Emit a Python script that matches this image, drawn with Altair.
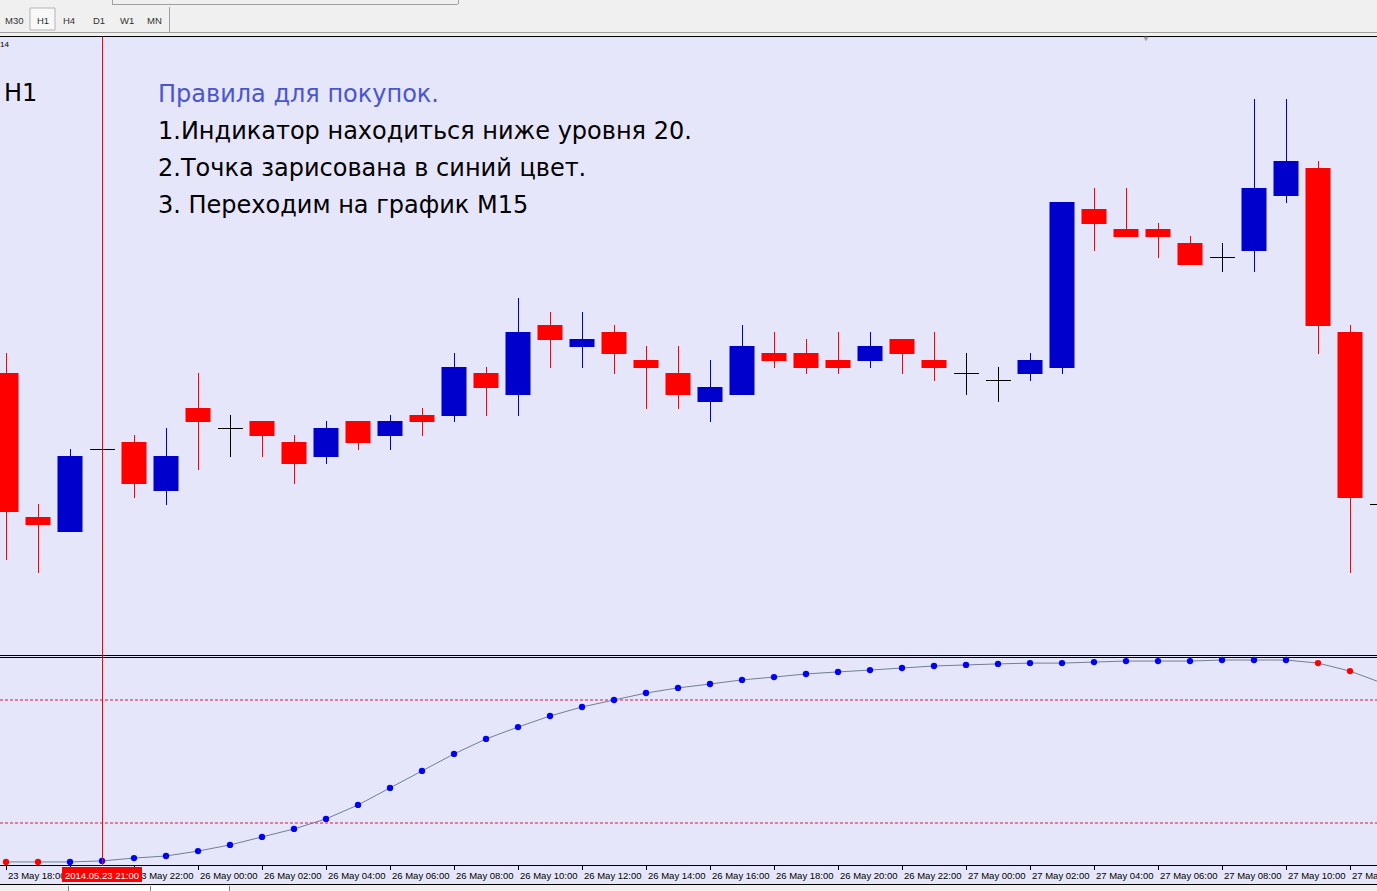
import altair as alt
import pandas as pd

W, H = 1377, 891

# ---------------- data ----------------
hours = [
    "23 May 18:00", "23 May 19:00", "23 May 20:00", "23 May 21:00", "23 May 22:00", "23 May 23:00",
    "26 May 00:00", "26 May 01:00", "26 May 02:00", "26 May 03:00", "26 May 04:00", "26 May 05:00",
    "26 May 06:00", "26 May 07:00", "26 May 08:00", "26 May 09:00", "26 May 10:00", "26 May 11:00",
    "26 May 12:00", "26 May 13:00", "26 May 14:00", "26 May 15:00", "26 May 16:00", "26 May 17:00",
    "26 May 18:00", "26 May 19:00", "26 May 20:00", "26 May 21:00", "26 May 22:00", "26 May 23:00",
    "27 May 00:00", "27 May 01:00", "27 May 02:00", "27 May 03:00", "27 May 04:00", "27 May 05:00",
    "27 May 06:00", "27 May 07:00", "27 May 08:00", "27 May 09:00", "27 May 10:00", "27 May 11:00",
    "27 May 12:00", "27 May 13:00",
]

opens = [1.36427, 1.36283, 1.36268, 1.36351, 1.36358, 1.36309, 1.36392, 1.36372, 1.36379, 1.36358,
         1.36343, 1.36379, 1.36364, 1.36385, 1.36384, 1.36427, 1.36405, 1.36475, 1.36453, 1.36468,
         1.36440, 1.36427, 1.36398, 1.36405, 1.36447, 1.36447, 1.36440, 1.36439, 1.36461, 1.36440,
         1.36427, 1.36420, 1.36426, 1.36432, 1.36591, 1.36571, 1.36571, 1.36557, 1.36543, 1.36549,
         1.36604, 1.36632, 1.36468, 1.36296]
highs = [1.36447, 1.36296, 1.36351, 1.36351, 1.36365, 1.36372, 1.36427, 1.36385, 1.36379, 1.36365,
         1.36379, 1.36379, 1.36385, 1.36392, 1.36447, 1.36433, 1.36502, 1.36488, 1.36488, 1.36475,
         1.36454, 1.36454, 1.36440, 1.36475, 1.36468, 1.36461, 1.36468, 1.36468, 1.36461, 1.36468,
         1.36447, 1.36433, 1.36447, 1.36598, 1.36612, 1.36612, 1.36577, 1.36564, 1.36557, 1.36701,
         1.36701, 1.36639, 1.36475, 1.36305]
lows = [1.36240, 1.36227, 1.36268, 1.36351, 1.36302, 1.36295, 1.36330, 1.36343, 1.36343, 1.36316,
        1.36336, 1.36350, 1.36350, 1.36364, 1.36378, 1.36384, 1.36384, 1.36432, 1.36432, 1.36426,
        1.36391, 1.36391, 1.36378, 1.36405, 1.36432, 1.36426, 1.36426, 1.36432, 1.36426, 1.36419,
        1.36405, 1.36398, 1.36419, 1.36426, 1.36549, 1.36563, 1.36542, 1.36535, 1.36528, 1.36528,
        1.36597, 1.36446, 1.36227, 1.36285]
closes = [1.36288, 1.36275, 1.36344, 1.36351, 1.36316, 1.36344, 1.36378, 1.36372, 1.36364, 1.36336,
          1.36372, 1.36357, 1.36379, 1.36378, 1.36433, 1.36412, 1.36468, 1.36460, 1.36461, 1.36446,
          1.36432, 1.36405, 1.36413, 1.36454, 1.36439, 1.36432, 1.36432, 1.36454, 1.36446, 1.36432,
          1.36427, 1.36420, 1.36440, 1.36598, 1.36576, 1.36563, 1.36563, 1.36535, 1.36543, 1.36612,
          1.36639, 1.36474, 1.36302, 1.36296]

stoch = [1.0, 1.0, 1.0, 1.5, 2.9, 3.9, 6.3, 9.3, 13.2, 17.1, 22.0, 28.8, 37.1, 45.4, 53.7, 61.0,
         66.8, 72.2, 76.6, 80.0, 83.4, 85.9, 87.8, 89.8, 91.2, 92.7, 93.7, 94.6, 95.6, 96.6, 97.1,
         97.6, 98.0, 98.0, 98.5, 99.0, 99.0, 99.0, 99.5, 99.5, 99.5, 98.0, 94.1, 88.3]
stoch_state = ["down", "down"] + ["up"] * 39 + ["down", "down", "down"]

levels = [20, 80]
axis_labels = hours[::2]
marker_time = "2014.05.23 21:00"
marker_index = 3

title_lines = [
    "Правила для покупок.",
    "1.Индикатор находиться ниже уровня 20.",
    "2.Точка зарисована в синий цвет.",
    "3. Переходим на график М15",
]
timeframes = ["M30", "H1", "H4", "D1", "W1", "MN"]

# ---------------- tables ----------------
n = len(hours)
df = pd.DataFrame({
    "idx": list(range(n)), "time": hours, "open": opens, "high": highs,
    "low": lows, "close": closes, "stoch": stoch, "state": stoch_state,
})
df["col"] = ["#0000CD" if c > o else ("#FF0000" if c < o else "#000000")
             for o, c in zip(opens, closes)]
df["dotcol"] = ["#0000FF" if s == "up" else "#FF0000" for s in stoch_state]

ticks = pd.DataFrame({"idx": list(range(0, n, 2)), "label": axis_labels})
# the label under the marker box is hidden by it in the terminal
tick_text = ticks[ticks["idx"] != marker_index - 1]
lv = pd.DataFrame({"lvl": levels})
mk = pd.DataFrame({"idx": [marker_index], "label": [marker_time]})
one = pd.DataFrame({"a": [0]})

# ---------------- scales ----------------
xs = alt.Scale(domain=[-6 / 32, (W - 6) / 32], range=[0, W], nice=False, zero=False, padding=0)
ysm = alt.Scale(domain=[1.36145, 1.36764], range=[655, 36], nice=False, zero=False, padding=0)
ysi = alt.Scale(domain=[0, 100], range=[864, 659], nice=False, zero=False, padding=0)
X = alt.X("idx:Q", scale=xs, axis=None)

FONT_UI = "Liberation Sans"
FONT_TXT = "DejaVu Sans"


def rect(x, x2, y, y2, **kw):
    return alt.Chart(one).mark_rect(**kw).encode(
        x=alt.value(x), x2=alt.value(x2), y=alt.value(y), y2=alt.value(y2))


def hline(y, x=0, x2=W, color="black", **kw):
    return alt.Chart(one).mark_rule(color=color, strokeWidth=1, **kw).encode(
        x=alt.value(x), x2=alt.value(x2), y=alt.value(y + 0.5))


def vline(x, y, y2, color="black", **kw):
    return alt.Chart(one).mark_rule(color=color, strokeWidth=1, **kw).encode(
        x=alt.value(x + 0.5), y=alt.value(y), y2=alt.value(y2))


def label(text, x, y, size, color="black", font=FONT_UI, align="left", **kw):
    return alt.Chart(one).mark_text(
        text=text, align=align, baseline="alphabetic", fontSize=size,
        font=font, color=color, **kw).encode(x=alt.value(x), y=alt.value(y))


layers = []
# plot backgrounds
layers.append(rect(0, W, 37, 885, color="#E6E6FA"))
# toolbar
layers.append(hline(4, 112, 458, color="#A0A0A0"))
layers.append(vline(112, 0, 4, color="#A0A0A0"))
layers.append(vline(458, 0, 4, color="#A0A0A0"))
layers.append(rect(30, 55, 8, 30, color="#F8F8F8", stroke="#B4B4B4", strokeWidth=1))
layers.append(vline(169, 7, 32, color="#A0A0A0"))
tf_x = [5, 37, 63, 93, 120, 147]
for t, xx in zip(timeframes, tf_x):
    layers.append(label(t, xx, 24, 9.5, color="#303030"))
layers.append(hline(32, color="#A0A0A0"))
layers.append(hline(36, color="black"))
layers.append(hline(865, color="black"))
layers.append(hline(884, color="black"))
# bottom tabs
layers.append(rect(68, 230, 886, 891, color="#FFFFFF"))
layers.append(vline(68, 886, 891, color="#808080"))
layers.append(vline(150, 886, 891, color="#808080"))
layers.append(vline(229, 886, 891, color="#808080"))

# indicator levels
layers.append(alt.Chart(lv).mark_rule(color="#DC143C", strokeWidth=1, strokeDash=[3, 2]).encode(
    y=alt.Y("lvl:Q", scale=ysi, axis=None), x=alt.value(0), x2=alt.value(W)))

# candles
layers.append(alt.Chart(df).mark_rule(strokeWidth=1, xOffset=0.5).encode(
    x=X, y=alt.Y("low:Q", scale=ysm, axis=None), y2="high:Q",
    color=alt.Color("col:N", scale=None)))
layers.append(alt.Chart(df).transform_filter("datum.open != datum.close").mark_bar(size=25).encode(
    x=X, y=alt.Y("open:Q", scale=ysm, axis=None), y2="close:Q",
    color=alt.Color("col:N", scale=None)))
layers.append(alt.Chart(df).transform_filter("datum.open == datum.close").mark_rule(
    strokeWidth=1, color="black", xOffset=-12, x2Offset=13, yOffset=0.5).encode(
    x=X, x2="idx:Q", y=alt.Y("open:Q", scale=ysm, axis=None)))

# panel separator
layers.append(hline(655))
layers.append(hline(657))

# indicator
layers.append(alt.Chart(df).mark_line(color="#708090", strokeWidth=1, clip=True).encode(
    x=X, y=alt.Y("stoch:Q", scale=ysi, axis=None)))
layers.append(alt.Chart(df).mark_circle(size=40, opacity=1).encode(
    x=X, y=alt.Y("stoch:Q", scale=ysi, axis=None), color=alt.Color("dotcol:N", scale=None)))

# time axis
layers.append(alt.Chart(ticks).mark_rule(color="black", strokeWidth=1, xOffset=0.5).encode(
    x=X, y=alt.value(865), y2=alt.value(870)))
layers.append(alt.Chart(tick_text).mark_text(align="left", baseline="alphabetic", dx=2,
                                             font=FONT_UI, fontSize=9.5, color="black").encode(
    x=X, y=alt.value(879), text="label:N"))

# vertical marker line + its label
layers.append(alt.Chart(mk).mark_rule(color="#FF0000", strokeWidth=1, xOffset=0.5).encode(
    x=X, y=alt.value(37), y2=alt.value(866)))
layers.append(alt.Chart(mk).mark_rect(color="#FF0000", xOffset=-40, x2Offset=40).encode(
    x=X, x2="idx:Q", y=alt.value(867), y2=alt.value(882)))
layers.append(alt.Chart(mk).mark_text(align="center", baseline="alphabetic", font=FONT_UI,
                                      fontSize=9.5, color="white").encode(
    x=X, y=alt.value(879), text="label:N"))

# chart-shift marker
layers.append(alt.Chart(one).mark_point(shape="triangle-down", filled=True, size=30,
                                        color="#A0A0A0", opacity=1).encode(
    x=alt.value(1146), y=alt.value(39)))

# annotations
layers.append(label("14", 0, 47, 8, font=FONT_UI))
layers.append(label("H1", 4, 101, 24, font=FONT_TXT))
ys_txt = [102, 139, 176, 213]
colors_txt = ["#4A55D0", "black", "black", "black"]
for t, yy, cc in zip(title_lines, ys_txt, colors_txt):
    layers.append(label(t, 158, yy, 24, color=cc, font=FONT_TXT))

chart = alt.layer(*layers).resolve_scale(y="independent").properties(
    width=W, height=H, padding=0, autosize=alt.AutoSizeParams(type="none"),
    background="#F0F0F0",
).configure_view(strokeWidth=0)

chart.save("out.html", embed_options={"renderer": "svg", "actions": False})
